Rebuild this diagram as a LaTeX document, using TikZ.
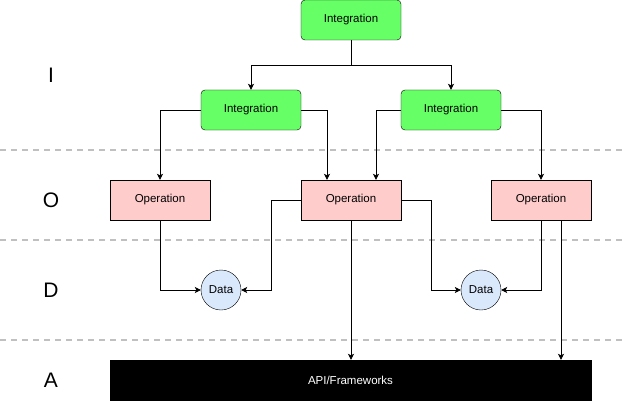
\documentclass[tikz,border=0pt]{standalone}
\usepackage{fontspec}
\setmainfont{Liberation Sans}
\usetikzlibrary{arrows.meta,positioning}
\definecolor{intgreen}{HTML}{66FF66}
\definecolor{oppink}{HTML}{FFCCCC}
\definecolor{datablue}{HTML}{DAE8FC}
\definecolor{sepgray}{HTML}{C0C0C0}

\begin{document}
\begin{tikzpicture}[x=1pt,y=-1pt,
    font=\fontsize{11.5}{13}\selectfont,
    integ/.style={draw, fill=intgreen, rounded corners=4pt, minimum width=100pt, minimum height=40pt, inner sep=0pt},
    oper/.style={draw, fill=oppink, minimum width=100pt, minimum height=40pt, inner sep=0pt},
    datanode/.style={draw, circle, fill=datablue, minimum size=40pt, inner sep=0pt},
    layer/.style={font=\fontsize{21}{24}\selectfont},
    sep/.style={sepgray, line width=1.2pt, dash pattern=on 6pt off 5pt},
    arr/.style={-{Stealth[length=6pt,width=6pt,inset=1.5pt]}, line width=0.7pt}
]
\useasboundingbox (0,0) rectangle (623,401);

% ---- separadores ----
\draw[sep] (0,150) -- (623,150);
\draw[sep] (0,240) -- (623,240);
\draw[sep] (0,340) -- (623,340);

% ---- capas ----
\node[layer] (lI) at (51,75) {I};
\node[layer] (lO) at (51,200) {O};
\node[layer] (lD) at (51,290) {D};
\node[layer] (lA) at (51,380) {A};

% ---- nodos ----
\node[integ] (i0) at (351,20) {Integration};
\node[integ] (i1) at (251,110) {Integration};
\node[integ] (i2) at (451,110) {Integration};

\node[oper] (o1) at (160,200) {Operation};
\node[oper] (o2) at (351,200) {Operation};
\node[oper] (o3) at (541,200) {Operation};

\node[datanode] (d1) at (221,290) {Data};
\node[datanode] (d2) at (481,290) {Data};

\node[draw, fill=black, text=white, minimum width=481pt, minimum height=40pt, inner sep=0pt] (api) at (350.5,380) {API/Frameworks};

% ---- aristas ----
\coordinate (o3b) at ([xshift=20pt]o3.south);

\draw[arr] (i0.south) |- (251,65) -- (i1.north);
\draw[arr] (i0.south) |- (451,65) -- (i2.north);

\draw[arr] (i1.west) -| (o1.north);
\draw[arr] (i1.east) -| ([xshift=-24pt]o2.north);
\draw[arr] (i2.west) -| ([xshift=25pt]o2.north);
\draw[arr] (i2.east) -| (o3.north);

\draw[arr] (o1.south) |- (d1.west);
\draw[arr] (o2.west) -- (271,200) |- (d1.east);
\draw[arr] (o2.east) -- (431,200) |- (d2.west);
\draw[arr] (o3.south) |- (d2.east);

\draw[arr] (o2.south) -- (api.north -| o2.south);
\draw[arr] (o3b) -- (api.north -| o3b);

\end{tikzpicture}
\end{document}
